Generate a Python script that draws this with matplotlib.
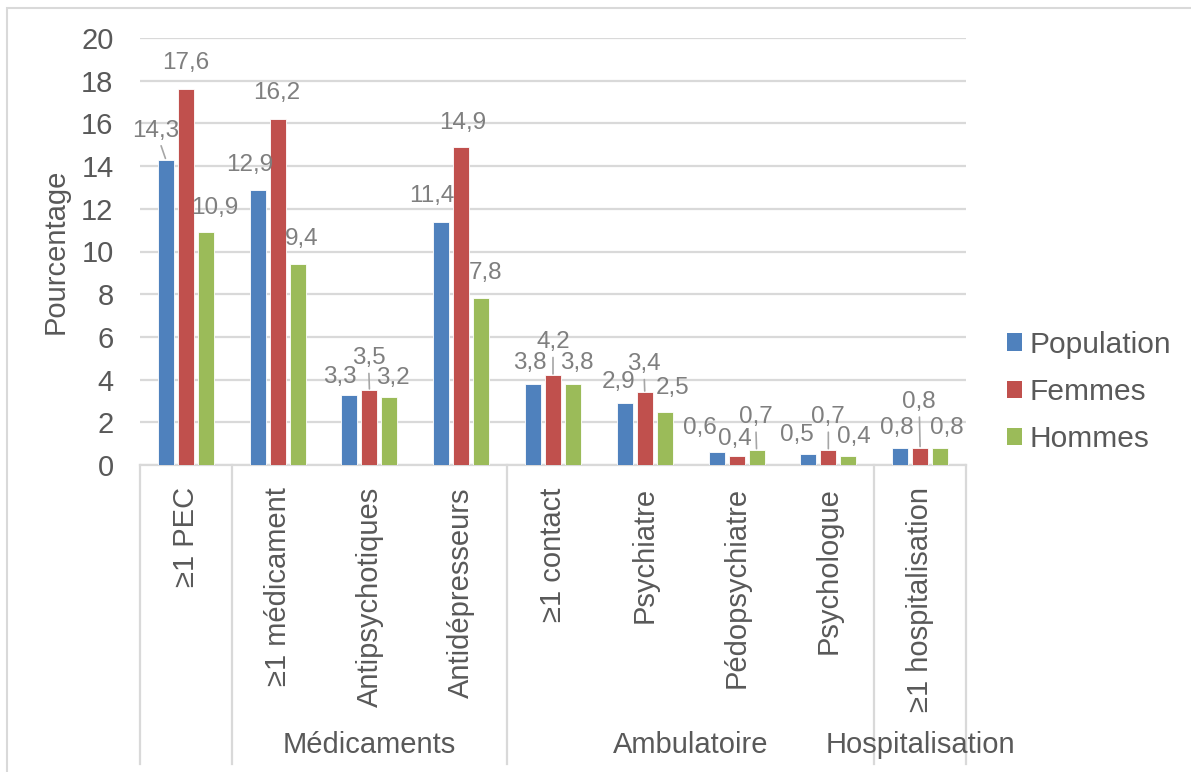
import matplotlib

matplotlib.use("Agg")
import matplotlib.pyplot as plt
from matplotlib.lines import Line2D
from matplotlib.patches import Patch, Rectangle
from matplotlib.transforms import blended_transform_factory

plt.rcParams["font.family"] = ["Liberation Sans", "DejaVu Sans"]

categories = [
    "≥1 PEC", "≥1 médicament", "Antipsychotiques", "Antidépresseurs",
    "≥1 contact", "Psychiatre", "Pédopsychiatre", "Psychologue", "≥1 hospitalisation",
]
groups = ["", "Médicaments", "Ambulatoire", "Hospitalisation"]
group_sizes = [1, 3, 4, 1]
series = ["Population", "Femmes", "Hommes"]
population = [14.3, 12.9, 3.3, 11.4, 3.8, 2.9, 0.6, 0.5, 0.8]
femmes = [17.6, 16.2, 3.5, 14.9, 4.2, 3.4, 0.4, 0.7, 0.8]
hommes = [10.9, 9.4, 3.2, 7.8, 3.8, 2.5, 0.7, 0.4, 0.8]
yticks = [0, 2, 4, 6, 8, 10, 12, 14, 16, 18, 20]

colors = ["#4F81BD", "#C0504D", "#9BBB59"]
GRID = "#D9D9D9"
AXIS_TXT = "#595959"
LABEL_TXT = "#7F7F7F"

# label offsets in pixels from each bar top (dx, dy), and which get a leader line
offsets = [
    [(-10, 29), (0, 26), (9, 24)],
    [(-8, 25), (-1, 26), (4, 25)],
    [(-10, 18), (-1, 32), (3, 19)],
    [(-9, 26), (1, 24), (4, 25)],
    [(-3, 21), (0, 33), (4, 21)],
    [(-6, 21), (-1, 28), (8, 24)],
    [(-17, 24), (-2, 17), (-1, 33)],
    [(-11, 19), (0, 33), (6, 19)],
    [(-3, 20), (-1, 46), (7, 20)],
]
leaders = {(0, 0), (2, 1), (4, 1), (5, 1), (6, 2), (7, 1), (8, 1)}

fig = plt.figure(figsize=(11.91, 7.72), dpi=100)
ax = fig.add_axes([140 / 1191, 1 - 465 / 772, 826 / 1191, 427 / 772])

# outer chart border
fig.patches.append(Rectangle((7 / 1191, -0.05), 1.1, 1 - 8 / 772 + 0.05,
                             transform=fig.transFigure, fill=False,
                             edgecolor=GRID, linewidth=1.5))

n = len(categories)
width = 0.175
step = 0.218
for s, (vals, col) in enumerate(zip([population, femmes, hommes], colors)):
    xs = [i + (s - 1) * step for i in range(n)]
    ax.bar(xs, vals, width=width, color=col, edgecolor="white", linewidth=0.6,
           zorder=3)
    for i, (x, v) in enumerate(zip(xs, vals)):
        dx, dy = offsets[i][s]
        lead = (i, s) in leaders
        ax.annotate(
            f"{v:.1f}".replace(".", ","), xy=(x, v), xytext=(dx, dy),
            textcoords="offset pixels", ha="center", va="center",
            fontsize=17.5, color=LABEL_TXT, zorder=4,
            arrowprops=dict(arrowstyle="-", color="#A6A6A6", lw=1.2,
                            shrinkA=1, shrinkB=1) if lead else None,
        )

ax.set_xlim(-0.5, n - 0.5)
ax.set_ylim(0, 20)
ax.set_yticks(yticks)
ax.set_yticklabels([str(t) for t in yticks], fontsize=21, color=AXIS_TXT)
ax.tick_params(axis="y", length=0, pad=19)
ax.yaxis.grid(True, color=GRID, linewidth=1.6, zorder=0)
ax.set_axisbelow(True)
ax.set_ylabel("Pourcentage", fontsize=21, color=AXIS_TXT, labelpad=8)

ax.set_xticks(range(n))
ax.set_xticklabels(categories, rotation=90, fontsize=21, color=AXIS_TXT,
                   va="top", ha="center")
ax.tick_params(axis="x", length=0, pad=16)

for side in ("top", "right", "left"):
    ax.spines[side].set_visible(False)
ax.spines["bottom"].set_color(GRID)
ax.spines["bottom"].set_linewidth(1.6)

# multi-level category axis: separators and group names
trans = blended_transform_factory(ax.transData, fig.transFigure)
y_top = 1 - 465 / 772
y_bot = 1 - 764 / 772
edge = -0.5
bounds = [edge]
for size in group_sizes:
    edge += size
    bounds.append(edge)
for b in bounds:
    fig.add_artist(Line2D([b, b], [y_top, y_bot], transform=trans,
                          color=GRID, linewidth=1.6))
for name, lo, hi in zip(groups, bounds[:-1], bounds[1:]):
    if name:
        fig.text((lo + hi) / 2, 1 - 745 / 772, name, transform=trans,
                 ha="center", va="center", fontsize=21, color=AXIS_TXT)

handles = [Patch(facecolor=c, edgecolor="none") for c in colors]
fig.legend(handles, series, loc="center left",
           bbox_to_anchor=(1007 / 1191, 1 - 392 / 772), frameon=False,
           fontsize=21.5, labelcolor=AXIS_TXT, handlelength=0.5,
           handleheight=0.5, handletextpad=0.25, labelspacing=0.65,
           borderpad=0, borderaxespad=0)

fig.savefig("out.png", dpi=100)
